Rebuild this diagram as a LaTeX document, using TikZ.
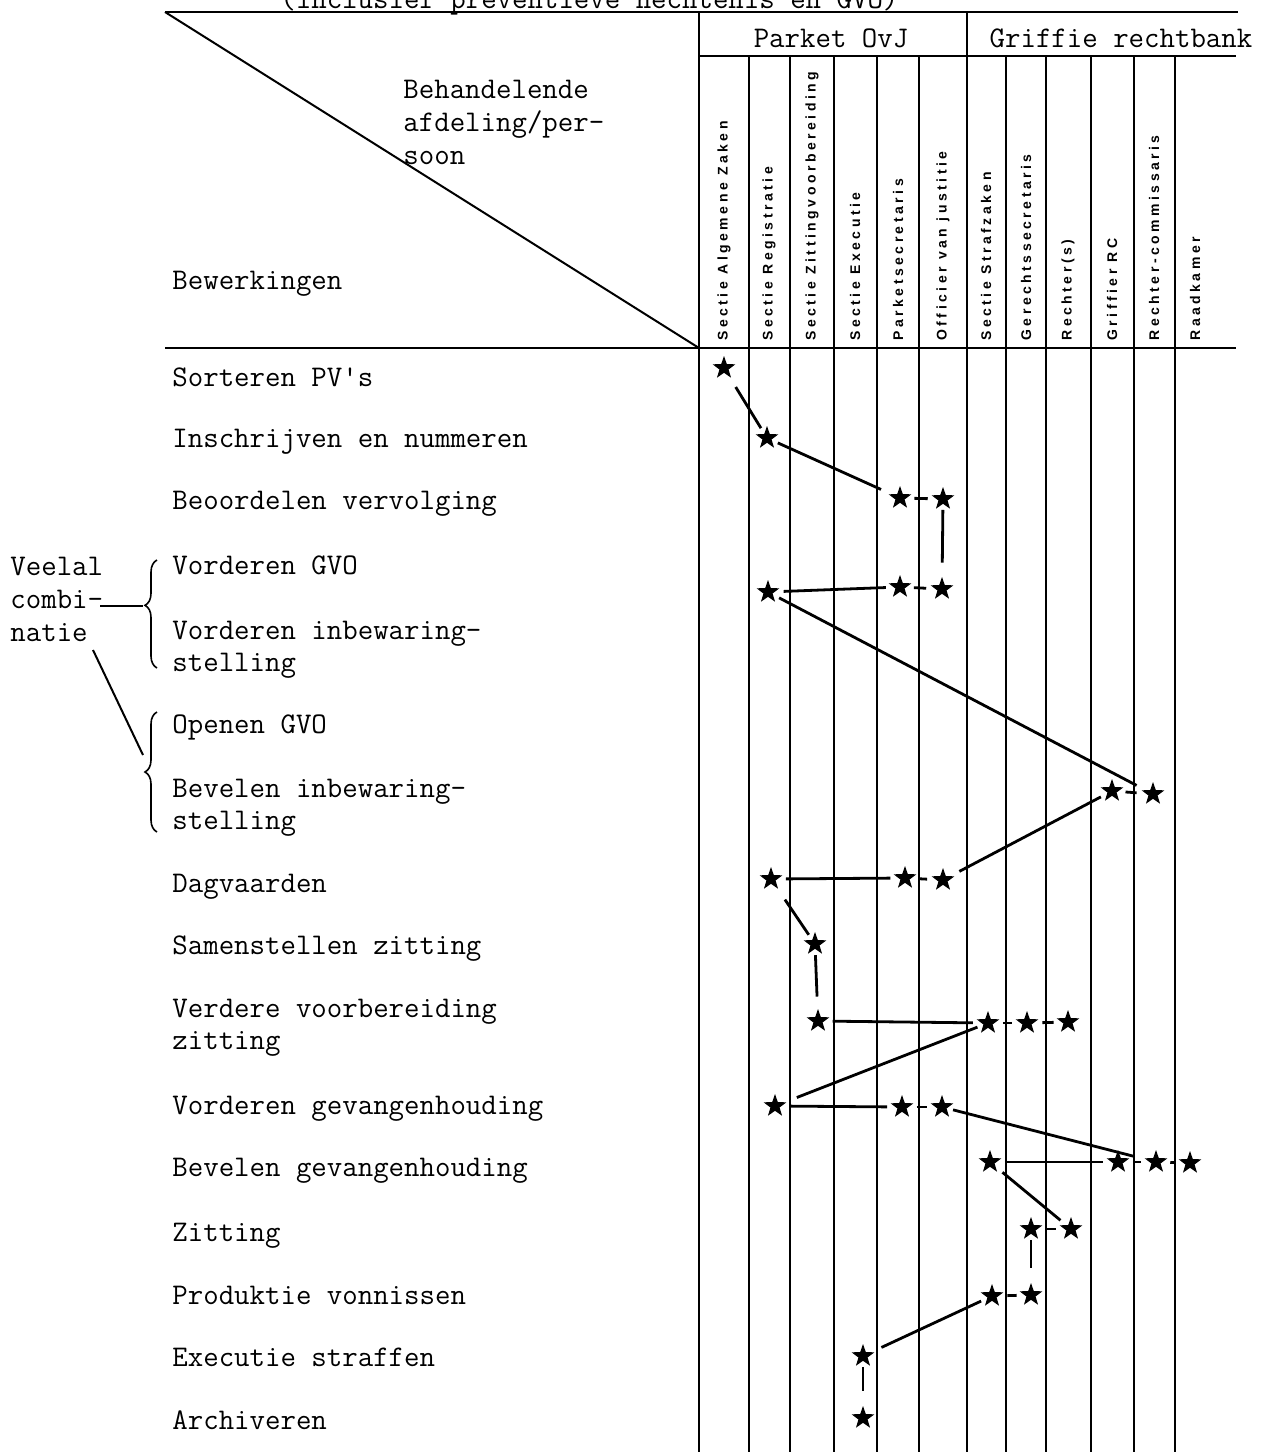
\documentclass[tikz,border=0pt]{standalone}
\usepackage{fontspec}
\newfontfamily\kolfont{Liberation Sans}[LetterSpace=25]
\usetikzlibrary{shapes.geometric,decorations.pathreplacing}

\newcommand\labfont{\ttfamily\fontsize{15}{16}\selectfont}
\newcommand\kopfont{\kolfont\bfseries\fontsize{7}{8}\selectfont}

\tikzset{
  lab/.style={font=\labfont, anchor=base west, inner sep=0pt, align=left},
  kop/.style={font=\kopfont, rotate=90, anchor=west, inner sep=0pt},
  ster/.style={star, star points=5, star point ratio=2.5, fill, inner sep=0pt,
    minimum size=12pt, outer sep=2.5pt},
  verb/.style={line width=1.4pt},
  rooster/.style={line width=1pt},
}

\begin{document}
\begin{tikzpicture}[x=0.5pt, y=-0.5pt]
  \useasboundingbox (0,0) rectangle (1268,1452);

  % kader en kolommen
  \draw[rooster, line width=1.2pt] (165,12) -- (1238,12);
  \draw[rooster] (699,56) -- (1236,56);
  \draw[rooster, line width=1.2pt] (165,348) -- (1236,348);
  \draw[rooster] (165,12) -- (699,348);
  \draw[rooster] (699,12) -- (699,1452);
  \draw[rooster] (967,12) -- (967,1452);
  \foreach \x in {749,790,834,877,919,1006,1046,1091,1134,1175}
    \draw[rooster] (\x,56) -- (\x,1452);

  \node[lab] (titel) at (280,8) {(inclusief preventieve hechtenis en GVO)};
  \node[font=\labfont, anchor=base, inner sep=0pt] (parket) at (831,47) {Parket OvJ};
  \node[font=\labfont, anchor=base, inner sep=0pt] (griffie) at (1121,47) {Griffie rechtbank};
  \node[lab, font=\ttfamily\fontsize{15}{16.5}\selectfont] (behandel) at (403,164)
    {Behandelende\\afdeling/per-\\soon};
  \node[lab] (bewerk) at (172,289) {Bewerkingen};

  \foreach \x/\t [count=\i] in {724/Sectie Algemene Zaken, 769/Sectie Registratie,
      812/Sectie Zittingvoorbereiding, 855/Sectie Executie, 898/Parketsecretaris,
      943/Officier van justitie, 986/Sectie Strafzaken, 1026/Gerechtssecretaris,
      1068/Rechter(s), 1112/Griffier RC, 1154/Rechter-commissaris, 1195/Raadkamer}
    \node[kop] (kol\i) at (\x,341) {\t};

  % bewerkingen
  \node[lab] (r1) at (172,386) {Sorteren PV's};
  \node[lab] (r2) at (172,447) {Inschrijven en nummeren};
  \node[lab] (r3) at (172,509) {Beoordelen vervolging};
  \node[lab] (r4) at (172,574) {Vorderen GVO};
  \node[lab] (r5) at (172,671) {Vorderen inbewaring-\\stelling};
  \node[lab] (r6) at (172,733) {Openen GVO};
  \node[lab] (r7) at (172,829) {Bevelen inbewaring-\\stelling};
  \node[lab] (r8) at (172,892) {Dagvaarden};
  \node[lab] (r9) at (172,954) {Samenstellen zitting};
  \node[lab] (r10) at (172,1049) {Verdere voorbereiding\\zitting};
  \node[lab] (r11) at (172,1114) {Vorderen gevangenhouding};
  \node[lab] (r12) at (172,1176) {Bevelen gevangenhouding};
  \node[lab] (r13) at (172,1241) {Zitting};
  \node[lab] (r14) at (172,1304) {Produktie vonnissen};
  \node[lab] (r15) at (172,1366) {Executie straffen};
  \node[lab] (r16) at (172,1429) {Archiveren};

  % veelal combinatie
  \node[lab, font=\ttfamily\fontsize{15}{16.5}\selectfont] (veelal) at (10,641)
    {Veelal\\combi-\\natie};
  \draw[decorate, decoration={brace, amplitude=6pt, aspect=0.58}, line width=0.8pt]
    (157,668) -- (157,560);
  \draw[decorate, decoration={brace, amplitude=6pt}, line width=0.8pt]
    (157,832) -- (157,712);
  \coordinate (combi) at (100,606);
  \coordinate (tipA) at (143,606);
  \coordinate (natie) at (93,650);
  \coordinate (tipB) at (143,755);
  \draw[line width=1pt] (combi) -- (tipA);
  \draw[line width=1pt] (natie) -- (tipB);

  % sterren
  \node[ster] (sort) at (724,368) {};
  \node[ster] (inschr) at (767,438) {};
  \node[ster] (beoor-ps) at (900,498) {};
  \node[ster] (beoor-ovj) at (943,499) {};
  \node[ster] (vord-reg) at (768,592) {};
  \node[ster] (vord-ps) at (900,587) {};
  \node[ster] (vord-ovj) at (942,589) {};
  \node[ster] (bev-grc) at (1112,791) {};
  \node[ster] (bev-rc) at (1153,794) {};
  \node[ster] (dagv-reg) at (771,879) {};
  \node[ster] (dagv-ps) at (905,878) {};
  \node[ster] (dagv-ovj) at (943,880) {};
  \node[ster] (samen) at (815,944) {};
  \node[ster] (verd-zv) at (818,1021) {};
  \node[ster] (verd-ss) at (988,1023) {};
  \node[ster] (verd-gs) at (1027,1023) {};
  \node[ster] (verd-r) at (1068,1022) {};
  \node[ster] (vgh-reg) at (775,1106) {};
  \node[ster] (vgh-ps) at (902,1107) {};
  \node[ster] (vgh-ovj) at (942,1107) {};
  \node[ster] (bgh-ss) at (990,1162) {};
  \node[ster] (bgh-grc) at (1118,1162) {};
  \node[ster] (bgh-rc) at (1156,1162) {};
  \node[ster] (bgh-rk) at (1190,1163) {};
  \node[ster] (zit-gs) at (1031,1229) {};
  \node[ster] (zit-r) at (1071,1229) {};
  \node[ster] (prod-ss) at (992,1296) {};
  \node[ster] (prod-gs) at (1031,1295) {};
  \node[ster] (exec) at (863,1356) {};
  \node[ster] (arch) at (863,1418) {};

  % verbindingen
  \draw[verb] (sort) -- (inschr);
  \draw[verb] (inschr) -- (beoor-ps);
  \draw[verb] (beoor-ps) -- (beoor-ovj);
  \draw[verb] (beoor-ovj) -- (vord-ovj);
  \draw[verb] (vord-reg) -- (vord-ps);
  \draw[verb] (vord-ps) -- (vord-ovj);
  \draw[verb] (vord-reg) -- (bev-rc);
  \draw[verb] (bev-grc) -- (bev-rc);
  \draw[verb] (bev-grc) -- (dagv-ovj);
  \draw[verb] (dagv-reg) -- (dagv-ps);
  \draw[verb] (dagv-ps) -- (dagv-ovj);
  \draw[verb] (dagv-reg) -- (samen);
  \draw[verb] (samen) -- (verd-zv);
  \draw[verb] (verd-zv) -- (verd-ss);
  \draw[verb] (verd-ss) -- (verd-gs);
  \draw[verb] (verd-gs) -- (verd-r);
  \draw[verb] (verd-ss) -- (vgh-reg);
  \draw[verb] (vgh-reg) -- (vgh-ps);
  \draw[verb] (vgh-ps) -- (vgh-ovj);
  \draw[verb] (vgh-ovj) -- (bgh-rc);
  \draw[verb] (bgh-ss) -- (bgh-grc);
  \draw[verb] (bgh-grc) -- (bgh-rc);
  \draw[verb] (bgh-rc) -- (bgh-rk);
  \draw[verb] (bgh-ss) -- (zit-r);
  \draw[verb] (zit-gs) -- (zit-r);
  \draw[verb] (zit-gs) -- (prod-gs);
  \draw[verb] (prod-ss) -- (prod-gs);
  \draw[verb] (prod-ss) -- (exec);
  \draw[verb] (exec) -- (arch);
\end{tikzpicture}
\end{document}
